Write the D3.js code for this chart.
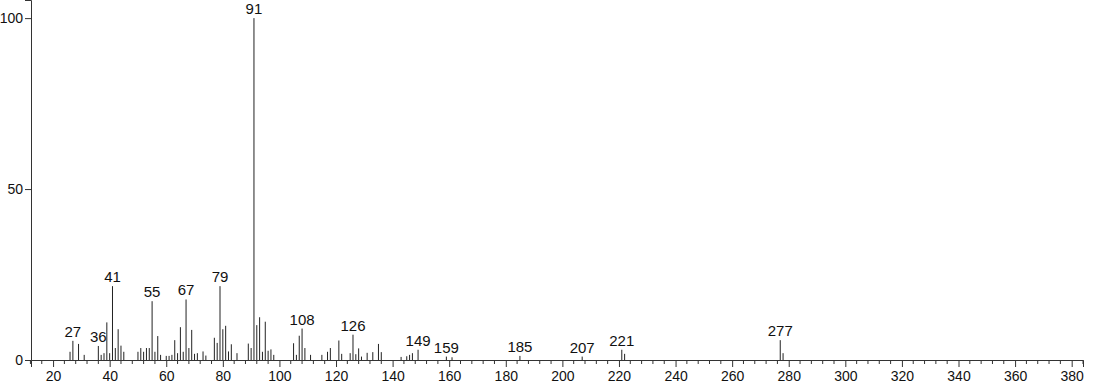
<!DOCTYPE html>
<html>
<head>
<meta charset="utf-8">
<script src="https://cdn.jsdelivr.net/npm/d3@7"></script>
<style>
  html, body { margin: 0; padding: 0; background: #fff; }
  svg { display: block; }
  text { font-family: "Liberation Sans", Arial, sans-serif; fill: #111; }
</style>
</head>
<body>
<svg id="chart" width="1094" height="384"></svg>
<script>
const mzValues = [26,27,29,31,36,37,38,39,40,41,42,43,44,45,50,51,52,53,54,55,56,57,58,60,61,62,63,64,65,66,67,68,69,70,71,73,74,77,78,79,80,81,82,83,85,89,90,91,92,93,94,95,96,97,98,105,106,107,108,109,111,115,117,118,121,122,125,126,127,128,129,131,133,135,136,143,145,146,147,149,159,161,185,207,221,222,277,278];
const intensities = [2.4,5.6,4.7,1.5,4.1,1.5,2,11,2,21.6,3.5,9,4.2,2.4,2.4,3.5,2.4,3.5,3.5,17.2,2.4,7,1.5,1.2,1.2,1.5,5.8,2,9.6,2.4,17.7,3.5,8.8,1.8,2,2.5,1.3,6.5,5,21.6,9,10,2.5,4.6,2,4.8,3.5,100,10.2,12.5,2.4,11.2,2.7,3.1,1.5,4.9,1.5,7.1,9.2,3.5,1.5,1.5,2.4,3.5,5.7,1.8,2,7.4,1.7,3.4,1,2.1,2.3,4.7,2.3,0.9,1.1,1.5,2,3,1,0.8,1.2,1,3,1.8,5.8,2];
const labeledPeaks = [27,36,41,55,67,79,91,108,126,149,159,185,207,221,277];
const xTickValues = d3.range(20, 381, 20);
const xMinorTickValues = d3.range(12, 385, 4).filter(v => v % 20 !== 0);
const yTickValues = [0, 50, 100];

const svg = d3.select("#chart");
const x = d3.scaleLinear().domain([12.2, 384]).range([31, 1083]);
const y = d3.scaleLinear().domain([0, 105.3]).range([360, 0]);

// bars
const data = mzValues.map((m, i) => ({ mz: m, v: intensities[i] }));
svg.append("g").selectAll("line").data(data).join("line")
  .attr("x1", d => x(d.mz)).attr("x2", d => x(d.mz))
  .attr("y1", y(0)).attr("y2", d => y(d.v))
  .attr("stroke", "#222").attr("stroke-width", 1);

// peak labels
svg.append("g").selectAll("text").data(data.filter(d => labeledPeaks.includes(d.mz))).join("text")
  .attr("x", d => x(d.mz)).attr("y", d => y(d.v) - 4)
  .attr("text-anchor", "middle").attr("font-size", 15)
  .text(d => d.mz);

// x axis
const xAxis = svg.append("g").attr("transform", `translate(0,${y(0)})`)
  .call(d3.axisBottom(x).tickValues(xTickValues).tickSize(7).tickPadding(4).tickFormat(d3.format("d")));
xAxis.selectAll("text").attr("font-size", 14).style("font-family", "Liberation Sans, Arial, sans-serif").attr("fill", "#111");
xAxis.select(".domain").attr("stroke", "#333");
xAxis.selectAll(".tick line").attr("stroke", "#333");
svg.append("g").selectAll("line").data(xMinorTickValues).join("line")
  .attr("x1", d => x(d)).attr("x2", d => x(d))
  .attr("y1", y(0)).attr("y2", y(0) + 4)
  .attr("stroke", "#333");

// y axis
const yAxis = svg.append("g").attr("transform", `translate(${x(12.2)},0)`)
  .call(d3.axisLeft(y).tickValues(yTickValues).tickSize(6).tickPadding(2));
yAxis.selectAll("text").attr("font-size", 14).style("font-family", "Liberation Sans, Arial, sans-serif").attr("fill", "#111");
yAxis.select(".domain").attr("stroke", "#333");
yAxis.selectAll(".tick line").attr("stroke", "#333");
</script>
</body>
</html>
